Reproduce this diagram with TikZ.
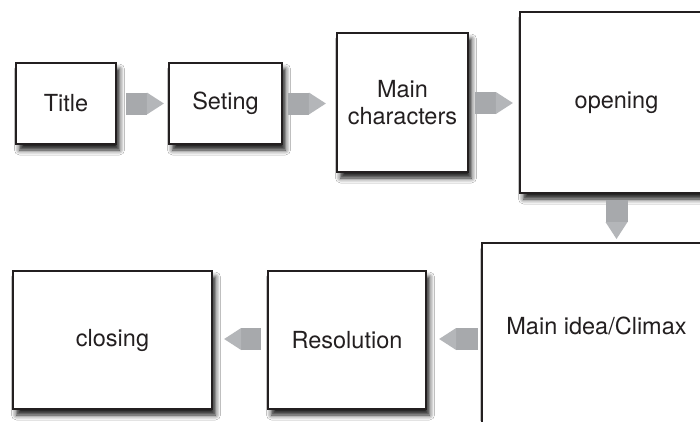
\documentclass[tikz,border=0pt]{standalone}
\usepackage{fontspec}
\setmainfont{TeX Gyre Heros}
\usetikzlibrary{calc,shadows.blur}
\definecolor{boxline}{HTML}{231F20}
\definecolor{txt}{HTML}{231F20}
\definecolor{arrbodyc}{HTML}{A7A9AC}
\definecolor{arrheadc}{HTML}{B4B6B9}
\tikzset{
  stepbox/.style={draw=boxline, line width=2.3pt, fill=white, text=txt,
    inner sep=0pt, align=center,
    font=\fontsize{23.5}{27}\selectfont,
    blur shadow={shadow xshift=3.5pt, shadow yshift=-6pt, shadow blur radius=5pt, shadow opacity=90}},
  arrbody/.style={fill=arrbodyc},
  arrhead/.style={fill=arrheadc}
}
\newcommand\blockarrow[2]{%
  \coordinate (ba-n) at ($(#2)!17pt!(#1)$);
  \fill[arrbody] ($(#1)!11pt!90:(#2)$) -- ($(ba-n)!11pt!-90:(#1)$) -- ($(ba-n)!11pt!90:(#1)$) -- ($(#1)!11pt!-90:(#2)$) -- cycle;
  \fill[arrhead] ($(ba-n)!11pt!-90:(#1)$) -- (#2) -- ($(ba-n)!11pt!90:(#1)$) -- cycle;
}
\begin{document}
\begin{tikzpicture}[x=1pt,y=-1pt]
\useasboundingbox (0,0) rectangle (700,421);
\fill[white] (0,0) rectangle (700,421);
\clip (0,0) rectangle (700,421);
% first row
\node[stepbox, minimum width=100pt, minimum height=81pt] (title) at (66,103.5) {Title};
\node[stepbox, minimum width=113pt, minimum height=81pt] (seting) at (225.5,103.5) {Seting};
\node[stepbox, minimum width=131pt, minimum height=139pt] (mainch) at (402.5,102.5) {Main\\characters};
\node[stepbox, minimum width=193pt, minimum height=181pt] (opening) at (616.5,102.5) {opening};
% second row
\node[stepbox, minimum width=231pt, minimum height=198pt, anchor=north west] (climax) at (481,242) {};
\node[text=txt, font=\fontsize{23.5}{27}\selectfont] (climaxtxt) at (596.5,326) {Main idea/Climax};
\node[stepbox, minimum width=158pt, minimum height=138pt] (resol) at (347,340) {Resolution};
\node[stepbox, minimum width=199pt, minimum height=138pt] (closing) at (112.5,340) {closing};
% arrows
\coordinate (a1s) at ($(title.east)+(9pt,0)$);
\coordinate (a1t) at ($(seting.west |- a1s)+(-4pt,0)$);
\blockarrow{a1s}{a1t}
\coordinate (a2s) at ($(seting.east)+(5pt,0)$);
\coordinate (a2t) at ($(mainch.west |- a2s)+(-10pt,0)$);
\blockarrow{a2s}{a2t}
\coordinate (a3s) at ($(mainch.east)+(6pt,0.5)$);
\coordinate (a3t) at ($(opening.west |- a3s)+(-6pt,0)$);
\blockarrow{a3s}{a3t}
\coordinate (a4s) at ($(opening.south)+(0,-6pt)$);
\coordinate (a4t) at ($(climax.north -| a4s)+(0,3pt)$);
\blockarrow{a4s}{a4t}
\coordinate (a5s) at ($(climax.west |- resol.east)+(-3pt,-1)$);
\coordinate (a5t) at ($(resol.east |- a5s)+(12pt,0)$);
\blockarrow{a5s}{a5t}
\coordinate (a6s) at ($(resol.west)+(-6pt,-1)$);
\coordinate (a6t) at ($(closing.east |- a6s)+(11pt,0)$);
\blockarrow{a6s}{a6t}
\end{tikzpicture}
\end{document}
